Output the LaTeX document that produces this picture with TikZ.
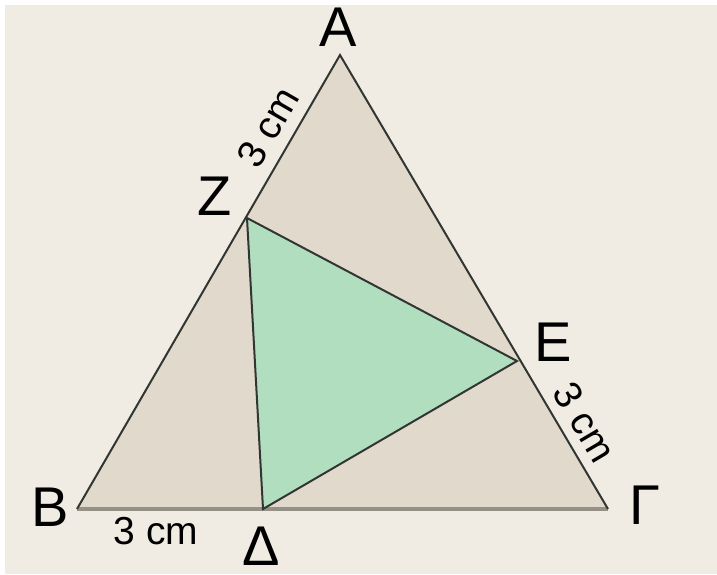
\documentclass[tikz,border=0pt]{standalone}
\usepackage{fontspec}
\setmainfont{Liberation Sans}
\definecolor{paper}{RGB}{240,236,227}
\definecolor{sand}{RGB}{225,217,203}
\definecolor{mint}{RGB}{178,222,192}
\definecolor{edge}{RGB}{50,54,50}
\definecolor{base}{RGB}{150,145,135}

\begin{document}
\begin{tikzpicture}[
    x=0.5pt,y=-0.5pt,
    vlabel/.style={font=\fontsize{28}{30}\selectfont,inner sep=0pt},
    cmlabel/.style={font=\fontsize{19.5}{21}\selectfont,inner sep=0pt},
    side/.style={draw=edge,line width=1pt},
    baseside/.style={draw=base,line width=2pt}
]
% canvas
\fill[white] (0,0) rectangle (717,574);
\fill[paper] (5,5) rectangle (717,574);
\useasboundingbox (0,0) rectangle (717,574);

% points
\coordinate (A) at (340,55);
\coordinate (B) at (77,509);
\coordinate (G) at (608,509);
\coordinate (Z) at (247,218);
\coordinate (E) at (517,361);
\coordinate (D) at (263,509);

% fills
\fill[sand] (A) -- (B) -- (G) -- cycle;
\fill[mint] (Z) -- (E) -- (D) -- cycle;

% sides
\draw[baseside] (B) -- (G);
\draw[side] (B) -- (A) -- (G);
\draw[side] (Z) -- (E) -- (D) -- cycle;

% labels
\node[vlabel] (lA) at (338,27) {Α};
\node[vlabel] (lZ) at (215,196) {Ζ};
\node[vlabel] (lE) at (553,342) {Ε};
\node[vlabel] (lB) at (50,507) {Β};
\node[vlabel] (lG) at (645,505) {Γ};
\node[vlabel] (lD) at (261,546) {Δ};
\node[cmlabel] (cmBD) at (156,531) {3 cm};
\node[cmlabel,rotate=60] (cmAZ) at (268,127) {3 cm};
\node[cmlabel,rotate=-59.5] (cmEG) at (585,422) {3 cm};
\end{tikzpicture}
\end{document}
